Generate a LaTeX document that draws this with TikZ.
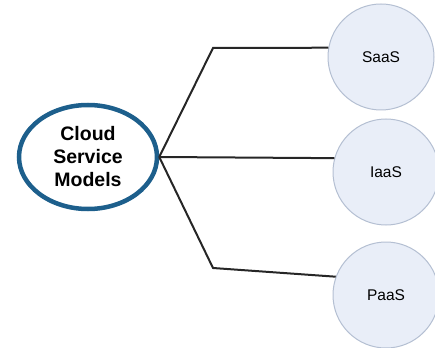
\documentclass[tikz,border=0pt]{standalone}
\usepackage{fontspec}
\setmainfont{Liberation Sans}
\usetikzlibrary{shapes.geometric}

\definecolor{hubblue}{HTML}{1D5F8C}
\definecolor{leaffill}{HTML}{E9EEF8}
\definecolor{leafline}{HTML}{B4BFD2}

\begin{document}
\begin{tikzpicture}[
                x=1pt, y=-1pt,
                hub/.style={ellipse, draw=hubblue, line width=4.5pt, minimum width=138pt,
                    minimum height=104pt, inner sep=0pt, align=center,
                    font=\fontsize{19.5}{23}\selectfont\bfseries},
                leaf/.style={circle, draw=leafline, fill=leaffill, line width=1pt,
                    minimum size=106pt, inner sep=0pt, font=\fontsize{15.5}{17}\selectfont},
                branch/.style={draw=black!85, line width=2pt}
            ]
                \useasboundingbox (0,0) rectangle (435,347);
                \node[hub] (root) at (88,157) {Cloud\\Service\\Models};
                \node[leaf] (saas) at (381,57) {SaaS};
                \node[leaf] (iaas) at (386,172) {IaaS};
                \node[leaf] (paas) at (386,295) {PaaS};
                \coordinate (kneeup) at (213,48);
                \coordinate (kneedown) at (213,268);
                % branches
                \draw[branch] (root.east) -- (kneeup) -- (saas.170);
                \draw[branch] (root.east) -- (iaas.165);
                \draw[branch] (root.east) -- (kneedown) -- (paas.160);
            \end{tikzpicture}
\end{document}
